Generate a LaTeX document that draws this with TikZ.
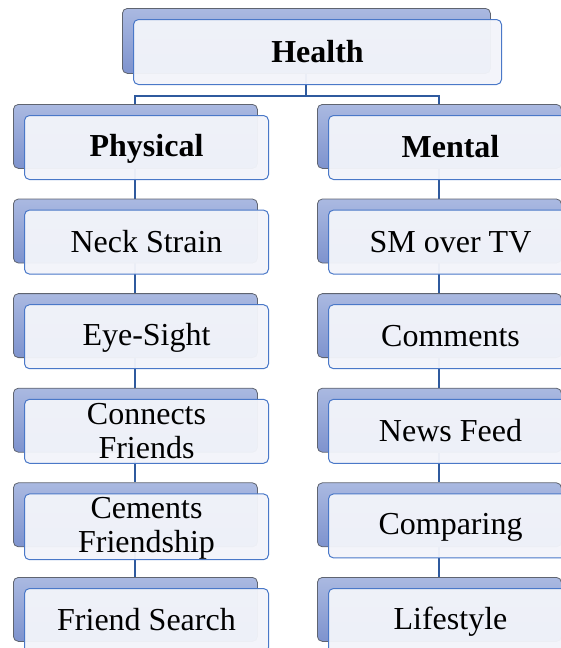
\documentclass[tikz,border=0pt]{standalone}
\usepackage{fontspec}
\setmainfont{Liberation Serif}
\usetikzlibrary{backgrounds}

\definecolor{shadetop}{HTML}{AAB9E1}
\definecolor{shadebot}{HTML}{7E93CE}
\definecolor{shadeedge}{HTML}{5F6470}
\definecolor{cardfill}{HTML}{F2F4FA}
\definecolor{cardedge}{HTML}{4A78C8}
\definecolor{linkblue}{HTML}{2F5A9E}

\tikzset{
  backbox/.style={draw=shadeedge, line width=0.8pt, rounded corners=5pt,
    top color=shadetop, bottom color=shadebot, minimum width=244pt,
    minimum height=64pt, inner sep=0pt, anchor=north west},
  frontbox/.style={draw=cardedge, line width=1pt, fill=cardfill, fill opacity=0.96,
    text opacity=1, rounded corners=5pt, minimum width=244pt, minimum height=64pt,
    inner sep=0pt, anchor=north west, align=center,
    font=\fontsize{32}{34}\selectfont},
  topbox/.style={minimum width=368pt, minimum height=65pt},
  link/.style={draw=linkblue, line width=2pt}
}

\newcommand{\cardstrut}{\rule[-5pt]{0pt}{30pt}}

% back card + front card, named (#2-b) and (#2)
\newcommand{\orgitem}[5][]{%
  \node[backbox,#1] (#2-b) at (#3,#4) {};
  \node[frontbox,#1] (#2) at (#3+11,#4+11) {\cardstrut#5\cardstrut};
}

\begin{document}
\begin{tikzpicture}[x=1pt, y=-1pt]
    \useasboundingbox (0,0) rectangle (561,648);
    \clip (0,0) rectangle (561,648);

    \orgitem[topbox]{health}{122}{8}{\textbf{Health}}

    % left column
    \orgitem{phys}{13}{104}{\textbf{Physical}}
    \orgitem{neck}{13}{198.6}{Neck Strain}
    \orgitem{eye}{13}{293.2}{Eye-Sight}
    \orgitem{conn}{13}{387.8}{Connects\\Friends}
    \orgitem{cem}{13}{482.4}{Cements\\Friendship}
    \orgitem{search}{13}{577}{Friend Search}

    % right column
    \orgitem{ment}{317}{104}{\textbf{Mental}}
    \orgitem{smtv}{317}{198.6}{SM over TV}
    \orgitem{comm}{317}{293.2}{Comments}
    \orgitem{news}{317}{387.8}{News Feed}
    \orgitem{comp}{317}{482.4}{Comparing}
    \orgitem{life}{317}{577}{Lifestyle}

    \begin{scope}[on background layer]
        \draw[link] (health-b.south) -- ++(0,22) -| (phys-b.north);
        \draw[link] (health-b.south) -- ++(0,22) -| (ment-b.north);
        \foreach \a/\b in {phys/neck, neck/eye, eye/conn, conn/cem, cem/search,
                           ment/smtv, smtv/comm, comm/news, news/comp, comp/life}
            \draw[link] (\a-b.south) -- (\b-b.north);
    \end{scope}
\end{tikzpicture}
\end{document}
